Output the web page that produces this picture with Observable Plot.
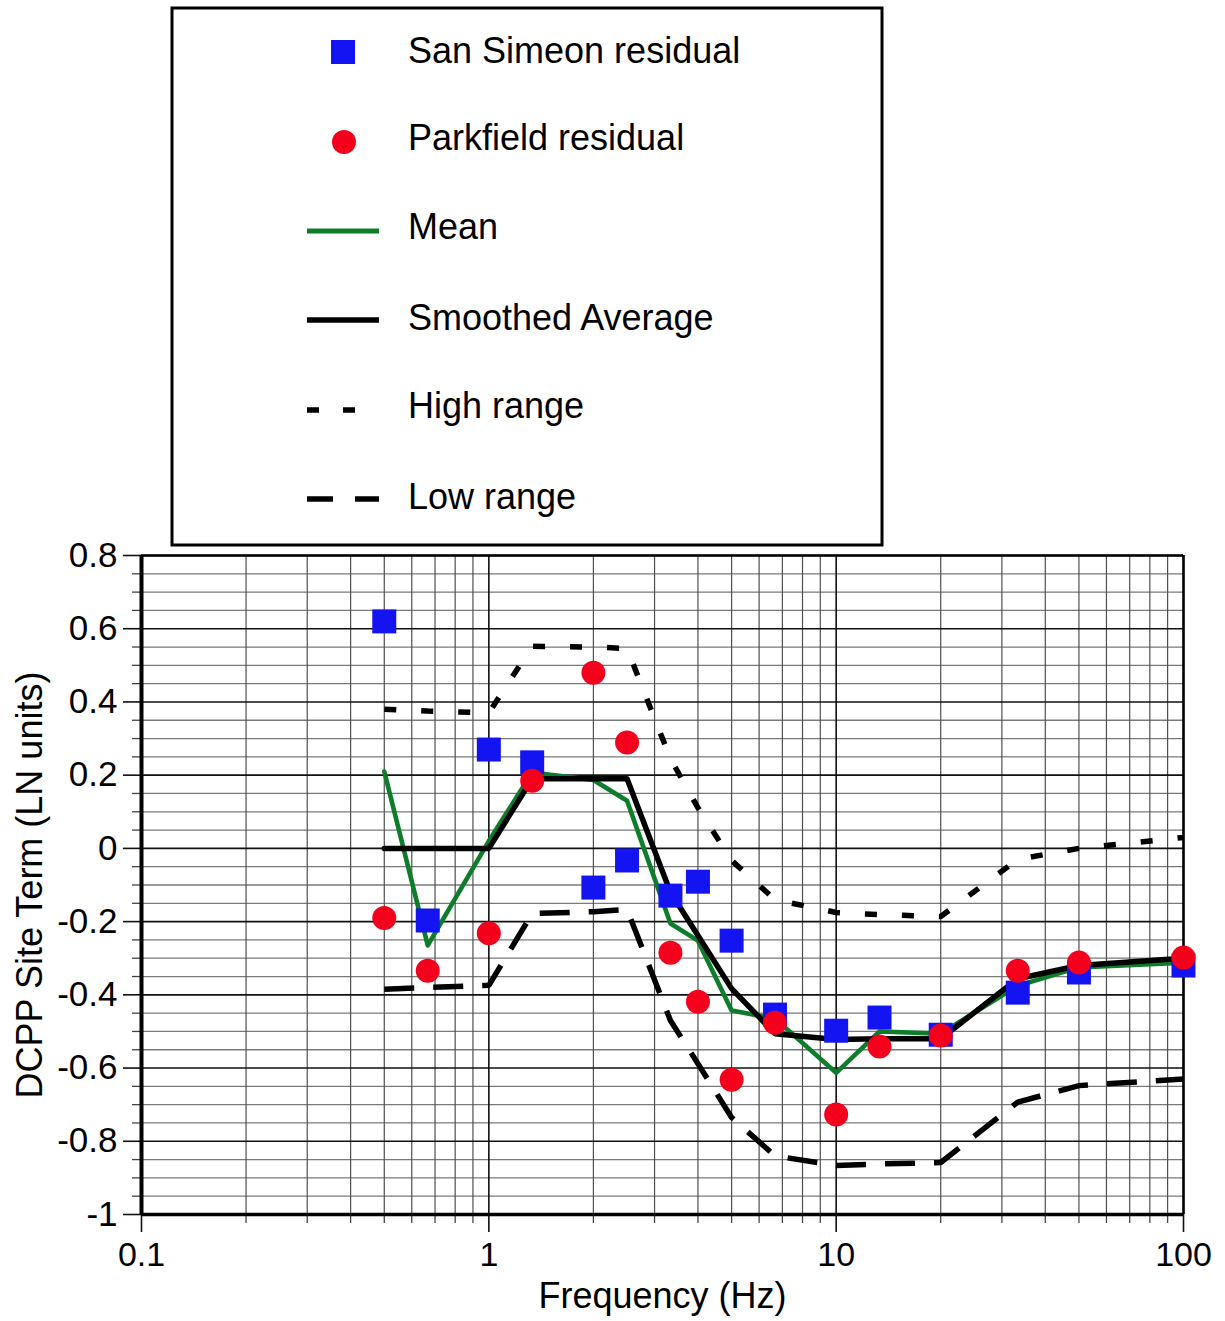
<!DOCTYPE html>
<html>
<head>
<meta charset="utf-8">
<script src="https://cdn.jsdelivr.net/npm/d3@7"></script>
<script src="https://cdn.jsdelivr.net/npm/@observablehq/plot@0.6"></script>
<style>
  body { margin: 0; background: #fff; font-family: "Liberation Sans", Arial, Helvetica, sans-serif; }
  #wrap { position: relative; width: 1225px; height: 1321px; overflow: hidden; }
  #plot { position: absolute; left: 0; top: 0; }
  #legend { position: absolute; left: 170px; top: 6px; }
</style>
</head>
<body>
<div id="wrap">
  <div id="plot"></div>
  <svg id="legend" width="714" height="542"></svg>
</div>
<script>
// ---- data ----
const freqs      = [0.5, 0.667, 1, 1.333, 2, 2.5, 3.333, 4, 5, 6.667, 10, 13.33, 20, 33.33, 50, 100];
const sanSimeon  = [0.62, -0.197, 0.27, 0.235, -0.107, -0.033, -0.129, -0.091, -0.252, -0.454, -0.498, -0.462, -0.509, -0.394, -0.339, -0.32];
const parkfield  = [-0.19, -0.334, -0.232, 0.185, 0.48, 0.289, -0.285, -0.419, -0.632, -0.476, -0.727, -0.541, -0.511, -0.334, -0.312, -0.298];
const meanVals   = [0.21, -0.265, 0.02, 0.207, 0.187, 0.13, -0.205, -0.252, -0.443, -0.465, -0.613, -0.50, -0.506, -0.375, -0.325, -0.312];
const smoothed   = [0, 0, 0, 0.19, 0.19, 0.19, -0.12, -0.238, -0.383, -0.506, -0.522, -0.52, -0.52, -0.356, -0.32, -0.30];
const highRange  = [0.38, 0.375, 0.37, 0.552, 0.55, 0.546, 0.245, 0.111, -0.033, -0.14, -0.175, -0.181, -0.186, -0.03, 0.0, 0.03];
const lowRange   = [-0.385, -0.38, -0.374, -0.178, -0.173, -0.167, -0.47, -0.588, -0.735, -0.84, -0.866, -0.862, -0.858, -0.693, -0.648, -0.63];

const seriesNames = ["San Simeon residual", "Parkfield residual", "Mean", "Smoothed Average", "High range", "Low range"];
const xLabel = "Frequency (Hz)";
const yLabel = "DCPP Site Term (LN units)";

const yTicks = [0.8, 0.6, 0.4, 0.2, 0, -0.2, -0.4, -0.6, -0.8, -1];
const yTickLabels = ["0.8", "0.6", "0.4", "0.2", "0", "-0.2", "-0.4", "-0.6", "-0.8", "-1"];
const yMinor = [0.75, 0.7, 0.65, 0.55, 0.5, 0.45, 0.35, 0.3, 0.25, 0.15, 0.1, 0.05,
                -0.05, -0.1, -0.15, -0.25, -0.3, -0.35, -0.45, -0.5, -0.55, -0.65, -0.7, -0.75,
                -0.85, -0.9, -0.95];
const xTicks = [0.1, 1, 10, 100];
const xTickLabels = ["0.1", "1", "10", "100"];
const xMinor = [0.2, 0.3, 0.4, 0.5, 0.6, 0.7, 0.8, 0.9,
                2, 3, 4, 5, 6, 7, 8, 9,
                20, 30, 40, 50, 60, 70, 80, 90];

// ---- styles ----
const BLUE = "#1414f2", RED = "#f5001c", GREEN = "#0d7d2c", BLACK = "#000";
const HIGH_DASH = "12,25", LOW_DASH = "30,19";
const FONT = "'Liberation Sans', Arial, Helvetica, sans-serif";

const data = freqs.map((f, i) => ({
  f, ss: sanSimeon[i], pk: parkfield[i], mean: meanVals[i],
  smooth: smoothed[i], hi: highRange[i], lo: lowRange[i]
}));

const fmtY = d => { const k = yTicks.findIndex(t => Math.abs(t - d) < 1e-9); return k >= 0 ? yTickLabels[k] : ""; };
const fmtX = d => { const k = xTicks.findIndex(t => Math.abs(t - d) < 1e-9 * Math.max(1, t)); return k >= 0 ? xTickLabels[k] : ""; };

const chart = Plot.plot({
  width: 1225,
  height: 1321,
  marginLeft: 141,
  marginRight: 42,
  marginTop: 555,
  marginBottom: 107,
  x: {type: "log", domain: [0.1, 100]},
  y: {domain: [-1, 0.8]},
  style: {fontFamily: FONT, background: "white", color: "black", overflow: "visible"},
  marks: [
    // grid
    Plot.ruleY(yMinor, {stroke: "#7a7a7a", strokeWidth: 1.3}),
    Plot.ruleX(xMinor, {stroke: "#505050", strokeWidth: 1.2}),
    Plot.ruleY(yTicks, {stroke: "#111", strokeWidth: 1.6}),
    Plot.ruleX(xTicks, {stroke: "#111", strokeWidth: 1.6}),
    // axes: minor ticks
    Plot.axisY({ticks: yMinor, tickSize: 9, tickFormat: () => "", label: null, stroke: "#444", strokeWidth: 1.3}),
    Plot.axisX({ticks: xMinor, tickSize: 9, tickFormat: () => "", label: null, stroke: "#444", strokeWidth: 1.3}),
    // axes: major ticks with labels
    Plot.axisY({ticks: yTicks, tickSize: 18, tickPadding: 6, tickFormat: fmtY,
                label: null, fontSize: 35, stroke: "#111", strokeWidth: 1.6}),
    Plot.axisX({ticks: xTicks, tickSize: 18, tickPadding: 9, tickFormat: fmtX,
                label: null, fontSize: 34, stroke: "#111", strokeWidth: 1.6}),
    // frame
    Plot.ruleX([0.1], {stroke: BLACK, strokeWidth: 4}),
    Plot.ruleX([100], {stroke: BLACK, strokeWidth: 2.5}),
    Plot.ruleY([-1], {stroke: BLACK, strokeWidth: 3.5}),
    Plot.ruleY([0.8], {stroke: BLACK, strokeWidth: 2.5}),
    // series lines
    Plot.line(data, {x: "f", y: "hi", stroke: BLACK, strokeWidth: 5.5, strokeDasharray: HIGH_DASH, strokeLinecap: "butt", strokeLinejoin: "miter"}),
    Plot.line(data, {x: "f", y: "lo", stroke: BLACK, strokeWidth: 5.5, strokeDasharray: LOW_DASH, strokeLinecap: "butt", strokeLinejoin: "miter"}),
    Plot.line(data, {x: "f", y: "mean", stroke: GREEN, strokeWidth: 4.6}),
    Plot.line(data, {x: "f", y: "smooth", stroke: BLACK, strokeWidth: 5.5}),
    // points
    Plot.dot(data, {x: "f", y: "ss", symbol: "square", r: 13.54, fill: BLUE, stroke: "none"}),
    Plot.dot(data, {x: "f", y: "pk", symbol: "circle", r: 12, fill: RED, stroke: "none"}),
    // axis titles
    Plot.text([xLabel], {frameAnchor: "bottom", textAnchor: "middle", lineAnchor: "bottom", dy: 93, fontSize: 36, fill: BLACK}),
    Plot.text([yLabel], {frameAnchor: "left", textAnchor: "middle", lineAnchor: "bottom", rotate: -90, dx: -100, fontSize: 36, fill: BLACK})
  ]
});
document.getElementById("plot").appendChild(chart);

// ---- legend (boxed, top) ----
const lg = d3.select("#legend");
lg.append("rect").attr("x", 2).attr("y", 2).attr("width", 710).attr("height", 537)
  .attr("fill", "white").attr("stroke", "black").attr("stroke-width", 3);
const rows = [
  {name: seriesNames[0], kind: "square", y: 46, ty: 57},
  {name: seriesNames[1], kind: "circle", y: 136, ty: 144},
  {name: seriesNames[2], kind: "line", color: GREEN, w: 5, dash: null, y: 225, ty: 233},
  {name: seriesNames[3], kind: "line", color: BLACK, w: 5.5, dash: null, y: 314, ty: 324},
  {name: seriesNames[4], kind: "line", color: BLACK, w: 5.5, dash: "12,24", len: 48, y: 404, ty: 412},
  {name: seriesNames[5], kind: "line", color: BLACK, w: 5.5, dash: "26,22", y: 493, ty: 503}
];
rows.forEach(r => {
  if (r.kind === "square") {
    lg.append("rect").attr("x", 173 - 12).attr("y", r.y - 12).attr("width", 24).attr("height", 24).attr("fill", BLUE);
  } else if (r.kind === "circle") {
    lg.append("circle").attr("cx", 174).attr("cy", r.y).attr("r", 12).attr("fill", RED);
  } else {
    const l = lg.append("line").attr("x1", 137).attr("x2", 137 + (r.len || 72)).attr("y1", r.y).attr("y2", r.y)
      .attr("stroke", r.color).attr("stroke-width", r.w);
    if (r.dash) l.attr("stroke-dasharray", r.dash);
  }
  lg.append("text").attr("x", 238).attr("y", r.ty).attr("font-size", 36).attr("font-family", FONT)
    .attr("fill", "black").text(r.name);
});
</script>
</body>
</html>
